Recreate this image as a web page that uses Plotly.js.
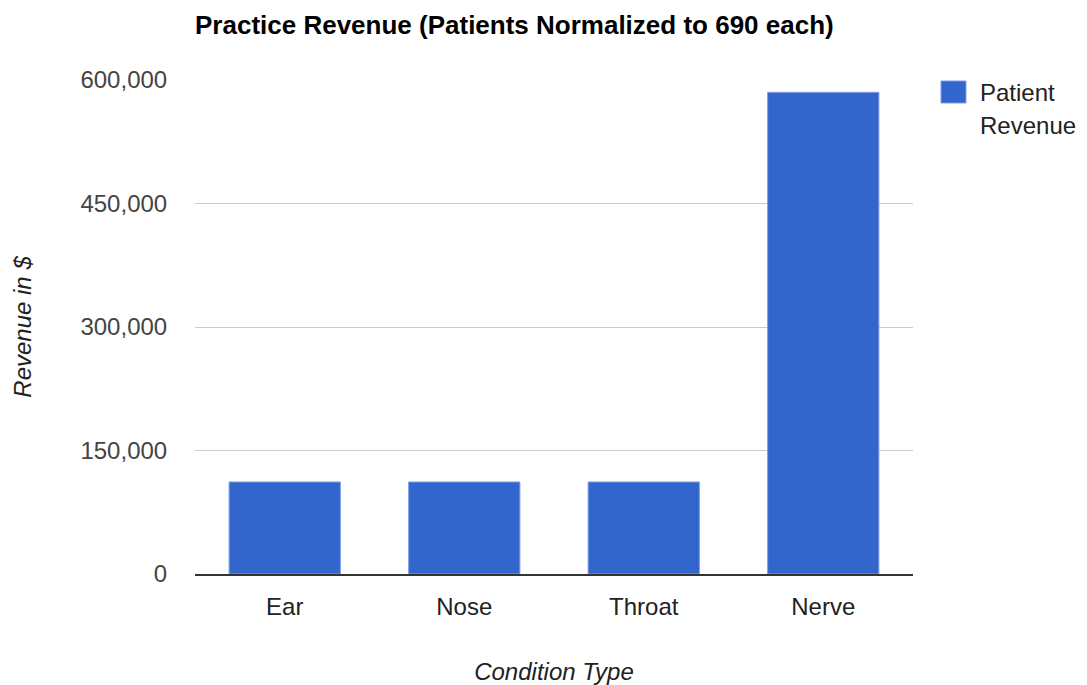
<!DOCTYPE html>
<html>
<head>
<meta charset="utf-8">
<script src="https://cdn.plot.ly/plotly-3.0.1.min.js"></script>
<style>html,body{margin:0;padding:0;background:#fff;}#chart{width:1087px;height:685px;}</style>
</head>
<body>
<div id="chart"></div>
<script>
const categories = ["Ear", "Nose", "Throat", "Nerve"];
const revenue = [111780, 111780, 111780, 585000];
const yTickValues = [0, 150000, 300000, 450000, 600000];
const yTickLabels = ["0", "150,000", "300,000", "450,000", "600,000"];
const legendLines = ["Patient", "Revenue"];

const FONT = "Arial, 'Liberation Sans', sans-serif";

const trace = {
  type: "bar",
  x: categories,
  y: revenue,
  name: legendLines.join(" "),
  marker: {color: "#3366cc", line: {color: "#7f9fe6", width: 1}},
  showlegend: false,
  hoverinfo: "x+y"
};

const layout = {
  width: 1087,
  height: 685,
  margin: {l: 195, r: 174, t: 80, b: 111, pad: 0},
  paper_bgcolor: "#ffffff",
  plot_bgcolor: "#ffffff",
  bargap: 0.38,
  font: {family: FONT, color: "#444"},
  title: {
    text: "<b>Practice Revenue (Patients Normalized to 690 each)</b>",
    font: {family: FONT, size: 26, color: "#000"},
    x: 0, xref: "paper", xanchor: "left",
    y: 0.963, yanchor: "middle"
  },
  xaxis: {
    type: "category",
    showgrid: false,
    showline: true,
    linecolor: "#333",
    linewidth: 2,
    ticks: "outside",
    ticklen: 10,
    tickcolor: "rgba(0,0,0,0)",
    tickfont: {family: FONT, size: 24, color: "#222"},
    title: {text: "<i>Condition Type</i>", font: {family: FONT, size: 24, color: "#222"}, standoff: 44}
  },
  yaxis: {
    range: [0, 600000],
    tickvals: yTickValues,
    ticktext: yTickLabels,
    showgrid: true,
    gridcolor: "#cccccc",
    gridwidth: 1,
    zeroline: false,
    showline: false,
    ticks: "outside",
    ticklen: 22,
    tickcolor: "rgba(0,0,0,0)",
    tickfont: {family: FONT, size: 24, color: "#444"},
    title: {text: "<i>Revenue in $</i>", font: {family: FONT, size: 24, color: "#222"}, standoff: 42}
  },
  shapes: [
    {type: "rect", xref: "paper", yref: "paper",
     x0: 1.039, x1: 1.0738, y0: 0.9534, y1: 0.998,
     fillcolor: "#3366cc", line: {color: "#7f9fe6", width: 1}}
  ],
  annotations: [
    {xref: "paper", yref: "paper", x: 1.0905, y: 0.9757, xanchor: "left", yanchor: "middle",
     text: legendLines[0], showarrow: false, align: "left",
     font: {family: FONT, size: 24, color: "#222"}},
    {xref: "paper", yref: "paper", x: 1.0905, y: 0.9069, xanchor: "left", yanchor: "middle",
     text: legendLines[1], showarrow: false, align: "left",
     font: {family: FONT, size: 24, color: "#222"}}
  ]
};

Plotly.newPlot("chart", [trace], layout, {displayModeBar: false, staticPlot: true});
</script>
</body>
</html>
